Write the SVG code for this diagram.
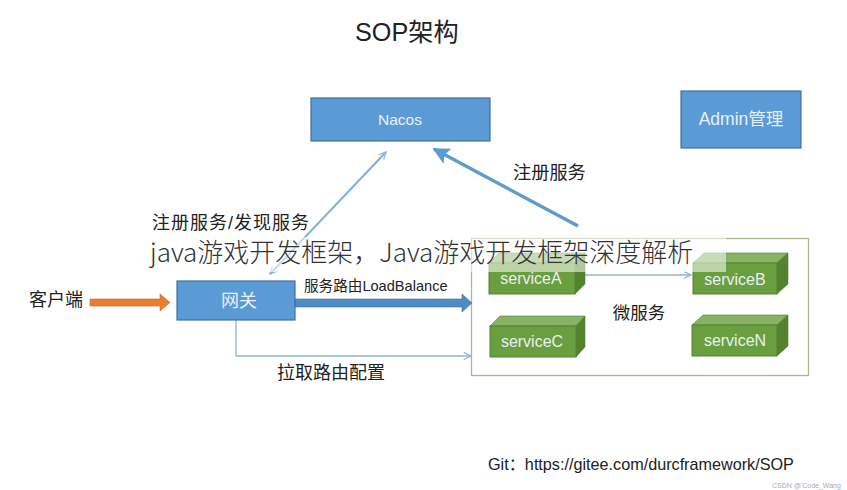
<svg xmlns="http://www.w3.org/2000/svg" width="847" height="490" viewBox="0 0 847 490">
<defs>
<style>
.cn{font-family:"Liberation Sans","Noto Sans CJK SC",sans-serif;fill:#222}
.w{font-family:"Liberation Sans","Noto Sans CJK SC",sans-serif;fill:#e8f0f4;text-anchor:middle}
.blue{fill:#5b9bd5;stroke:#41719c;stroke-width:1.2}
.front{fill:#6a9f3f;stroke:#548235;stroke-width:1}
.top{fill:#88b264;stroke:#548235;stroke-width:.6}
.side{fill:#55822f;stroke:#548235;stroke-width:.6}
.thin{fill:none;stroke:#8fb4d0;stroke-width:1.3}
</style>
<marker id="open" viewBox="0 0 10 10" refX="9" refY="5" markerWidth="9" markerHeight="9" markerUnits="userSpaceOnUse" orient="auto-start-reverse"><path d="M1 1L9 5L1 9" fill="none" stroke="#8fb4d0" stroke-width="1.3"/></marker>
<marker id="thick" viewBox="0 0 10 10" refX="9" refY="5" markerWidth="5" markerHeight="5" orient="auto"><path d="M0 0L10 5L0 10L2 5Z" fill="#5b9bd5"/></marker>
</defs>
<rect width="847" height="490" fill="#fff"/>
<text id="title" x="355" y="41" class="cn" font-size="25.200">SOP架构</text>
<g id="container"><rect x="471.5" y="238.5" width="337" height="137" fill="#fff" stroke="#a9b98f" stroke-width="1.3"/><text x="639" y="319" class="cn" font-size="17.500" text-anchor="middle">微服务</text></g>
<g id="connectors">
<path class="thin" d="M270 274L386 152" marker-start="url(#open)" marker-end="url(#open)" style="stroke:#7fb0d5;stroke-width:2"/>
<path d="M578 226L434 149" fill="none" stroke="#5f9cc8" stroke-width="3.400" marker-end="url(#thick)"/>
<path class="thin" d="M236 320V356H471" marker-end="url(#open)"/>
<path class="thin" d="M585 275H691" marker-end="url(#open)"/>
<path d="M295 299H462V294L472 303L462 312V307H295Z" fill="#4f8cc6" stroke="#41719c" stroke-width=".6"/>
<path d="M90 299H160V294L170 302.500L160 311V306H90Z" fill="#ed7d31" stroke="#c96a2a" stroke-width=".6"/>
</g>
<g id="nacos"><rect class="blue" x="311" y="98" width="179" height="43"/><text class="w" x="400" y="125" font-size="15.500">Nacos</text></g>
<g id="admin"><rect class="blue" x="681" y="91" width="120" height="57"/><text class="w" x="741" y="125" font-size="17.500">Admin管理</text></g>
<g id="gateway"><rect class="blue" x="177" y="281" width="118" height="39"/><text class="w" x="239" y="307" font-size="18">网关</text></g>
<g id="serviceA"><path class="top" d="M489 263L499 253H585L575 263Z"/><path class="side" d="M575 263L585 253V284L575 294Z"/><rect class="front" x="489" y="263" width="86" height="31"/><text class="w" x="531" y="284" font-size="16">serviceA</text></g>
<g id="serviceB"><path class="top" d="M693 263L704 253H788L777 263Z"/><path class="side" d="M777 263L788 253V284L777 294Z"/><rect class="front" x="693" y="263" width="84" height="31"/><text class="w" x="735" y="285" font-size="16">serviceB</text></g>
<g id="serviceC"><path class="top" d="M490 326L500 316H585L576 326Z"/><path class="side" d="M576 326L585 316V347L576 357Z"/><rect class="front" x="490" y="326" width="86" height="31"/><text class="w" x="532" y="347" font-size="16">serviceC</text></g>
<g id="serviceN"><path class="top" d="M692 325L703 315H788L777 325Z"/><path class="side" d="M777 325L788 315V346L777 356Z"/><rect class="front" x="692" y="325" width="85" height="31"/><text class="w" x="735" y="346" font-size="16">serviceN</text></g>
<g id="labels" class="cn">
<text x="152" y="229" class="cn" font-size="18" textLength="157" lengthAdjust="spacing">注册服务/发现服务</text>
<text x="513" y="179" class="cn" font-size="18.200">注册服务</text>
<text x="29" y="306" class="cn" font-size="18">客户端</text>
<text x="304" y="291" class="cn" font-size="14.600">服务路由LoadBalance</text>
<text x="277" y="379" class="cn" font-size="18">拉取路由配置</text>
<text x="488" y="470" class="cn" font-size="16.200">Git：https://gitee.com/durcframework/SOP</text>
<text x="772" y="488" font-family="Liberation Sans,sans-serif" font-size="7" fill="#aab">CSDN @'Code_Wang</text>
</g>
<g id="overlay">
<rect x="140" y="237" width="586" height="35" fill="#fff" fill-opacity=".55"/>
<text x="150" y="262" font-family="'Noto Sans CJK SC',sans-serif" font-weight="300" font-size="26" fill="#333">java游戏开发框架，Java游戏开发框架深度解析</text>
</g>
</svg>
